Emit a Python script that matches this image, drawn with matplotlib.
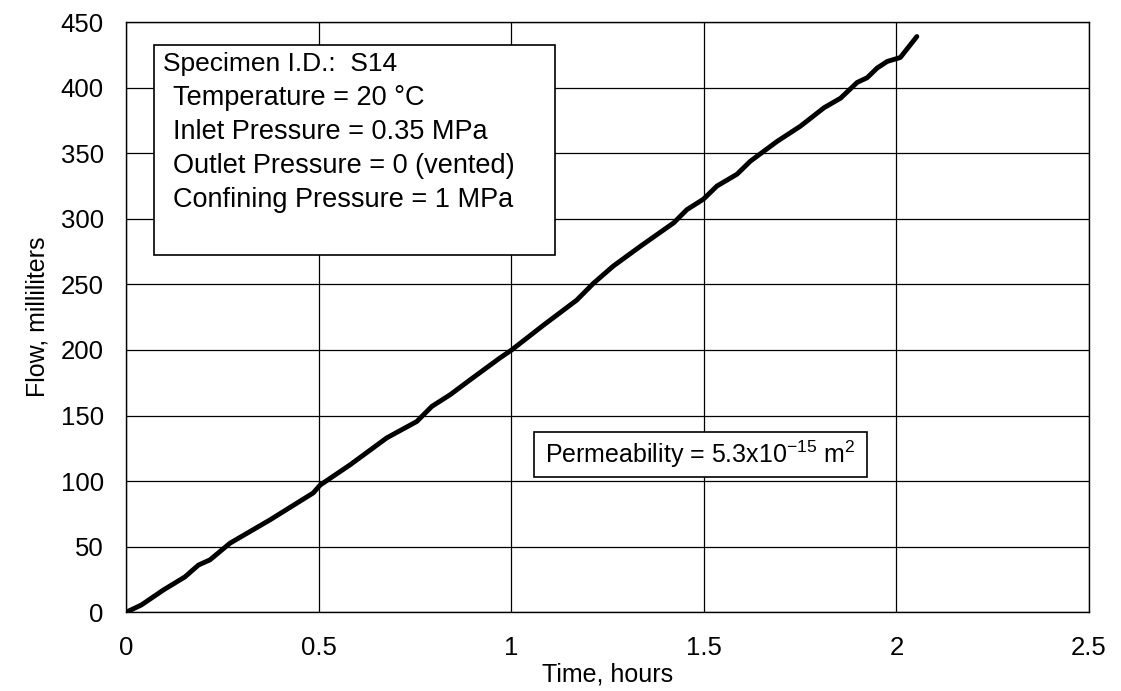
import matplotlib.pyplot as plt
from matplotlib.patches import Rectangle

plt.rcParams['font.family'] = ['Liberation Sans', 'DejaVu Sans']

# flow curve
time_h = [0.0, 0.04, 0.097, 0.153, 0.188, 0.218, 0.27, 0.374, 0.486, 0.504,
          0.582, 0.677, 0.755, 0.794, 0.842, 0.894, 0.971, 1.001, 1.084, 1.17,
          1.214, 1.265, 1.335, 1.422, 1.456, 1.499, 1.534, 1.586, 1.621, 1.69,
          1.751, 1.812, 1.855, 1.898, 1.924, 1.95, 1.976, 2.01, 2.053]
flow_ml = [0, 5.6, 17, 27, 36, 40, 52.7, 70.5, 91, 97,
           112.5, 133, 145.5, 157, 166, 177.4, 194, 200, 219, 238,
           251, 264, 279, 297, 307, 315, 325, 334, 344, 359,
           370.7, 384.7, 392, 404, 407.6, 415, 420, 423, 439]

x_ticks = [0, 0.5, 1, 1.5, 2, 2.5]
x_tick_labels = ['0', '0.5', '1', '1.5', '2', '2.5']
y_ticks = list(range(0, 451, 50))

info_title = 'Specimen I.D.:  S14'
info_lines = ['Temperature = 20 \u00b0C',
              'Inlet Pressure = 0.35 MPa',
              'Outlet Pressure = 0 (vented)',
              'Confining Pressure = 1 MPa']
perm_text = 'Permeability = 5.3x10$^{\\mathregular{-15}}$ m$^{\\mathregular{2}}$'

fig = plt.figure(figsize=(11.21, 6.91), dpi=100)
ax = fig.add_axes([0.1124, 0.1139, 0.8591, 0.8541])

ax.plot(time_h, flow_ml, color='black', linewidth=3.5, solid_capstyle='round',
        solid_joinstyle='round', zorder=3)

ax.set_xlim(0, 2.5)
ax.set_ylim(0, 450)
ax.set_xticks(x_ticks)
ax.set_xticklabels(x_tick_labels)
ax.set_yticks(y_ticks)
ax.grid(True, color='black', linewidth=0.9)
ax.set_axisbelow(True)
for s in ax.spines.values():
    s.set_linewidth(1.0)
ax.tick_params(axis='both', length=0, labelsize=18.5)
ax.tick_params(axis='x', pad=17)
ax.tick_params(axis='y', pad=16)

ax.set_xlabel('Time, hours', fontsize=18, labelpad=2)
ax.set_ylabel('Flow, milliliters', fontsize=18, labelpad=8)

# info box
ax.add_patch(Rectangle((0.029, 0.605), 0.4165, 0.356, transform=ax.transAxes,
                       facecolor='white', edgecolor='black', linewidth=1.2,
                       zorder=4))
ax.text(0.0384, 0.9297, info_title, transform=ax.transAxes, fontsize=19,
        va='center', ha='left', zorder=5)
for i, line in enumerate(info_lines):
    ax.text(0.0488, 0.8713 - i * 0.0576, line, transform=ax.transAxes,
            fontsize=19.5, va='center', ha='left', zorder=5)

# permeability box
ax.add_patch(Rectangle((0.4237, 0.2292), 0.3458, 0.0762, transform=ax.transAxes,
                       facecolor='white', edgecolor='black', linewidth=1.2,
                       zorder=4))
ax.text(0.5966, 0.2673, perm_text, transform=ax.transAxes, fontsize=18,
        va='center', ha='center', zorder=5)

fig.savefig('out.png', dpi=100)
